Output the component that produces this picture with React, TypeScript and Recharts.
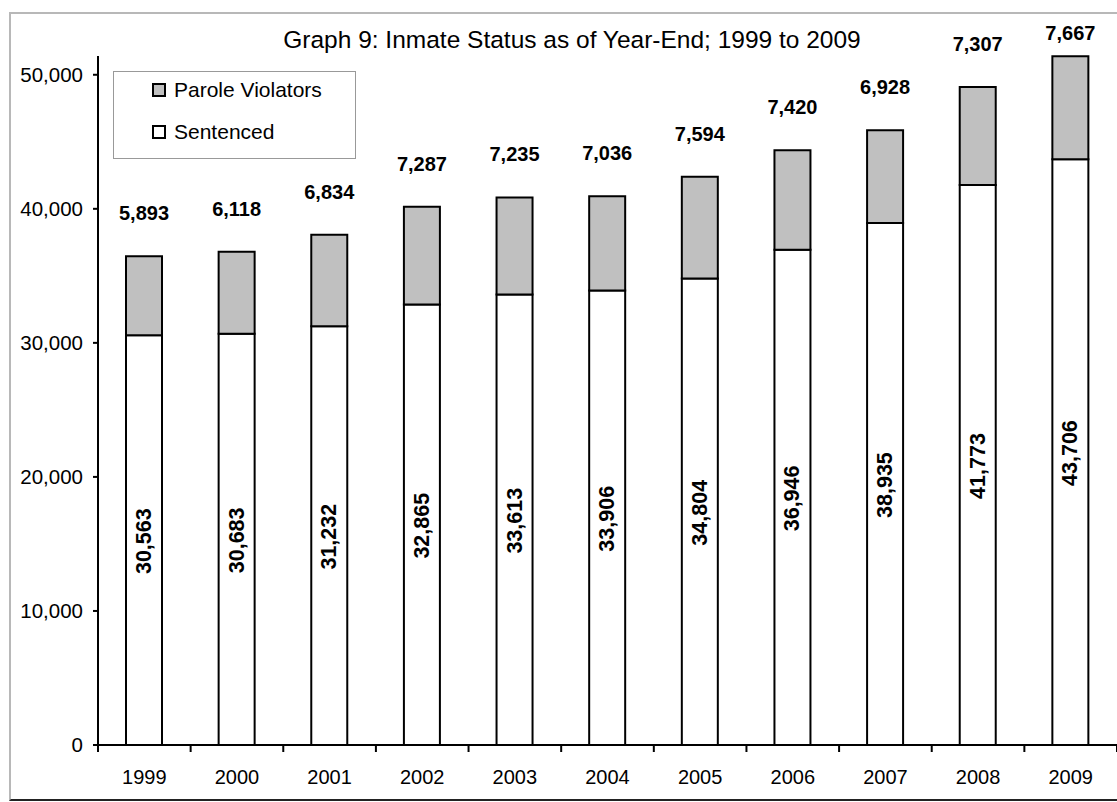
import React from 'react';
import { BarChart, Bar, XAxis, YAxis, LabelList, Legend } from 'recharts';

const years = ['1999', '2000', '2001', '2002', '2003', '2004', '2005', '2006', '2007', '2008', '2009'];
const sentenced = [30563, 30683, 31232, 32865, 33613, 33906, 34804, 36946, 38935, 41773, 43706];
const paroleViolators = [5893, 6118, 6834, 7287, 7235, 7036, 7594, 7420, 6928, 7307, 7667];
const yTicks = [0, 10000, 20000, 30000, 40000, 50000];
const legendItems = [
  { name: 'Parole Violators', color: '#c0c0c0' },
  { name: 'Sentenced', color: '#ffffff' },
];

const data = years.map((year, i) => ({
  year,
  sentenced: sentenced[i],
  parole: paroleViolators[i],
}));

const FONT = '"Liberation Sans", Arial, sans-serif';
const fmt = (v: number) => Number(v).toLocaleString('en-US');

const CHART_W = 1117;
const CHART_H = 802;
const MARGIN_TOP = 56;
const X_AXIS_H = 57;
const TICK_GAP = 25;
const Y_MAX = 51400;
const plotH = CHART_H - MARGIN_TOP - X_AXIS_H;
const yAxisLineLen = (plotH * yTicks[yTicks.length - 1]) / Y_MAX;

const ParoleLabel = (props: any) => {
  const { x, y, width, value } = props;
  const cx = Number(x) + Number(width) / 2;
  const ty = Math.max(Number(y) - 43, 33);
  return (
    <text x={cx} y={ty} textAnchor="middle" dominantBaseline="central" fontFamily={FONT} fontSize={20} fontWeight="bold" fill="#000">
      {fmt(value)}
    </text>
  );
};

const SentencedLabel = (props: any) => {
  const { x, y, width, height, value } = props;
  const cx = Number(x) + Number(width) / 2;
  const cy = Number(y) + Number(height) / 2 + 1;
  return (
    <text x={cx} y={cy} transform={`rotate(-90 ${cx} ${cy})`} textAnchor="middle" dominantBaseline="central" fontFamily={FONT} fontSize={21.5} fontWeight="bold" fill="#000">
      {fmt(value)}
    </text>
  );
};

const XTick = (props: any) => {
  const { x, y, payload, width, visibleTicksCount, index } = props;
  const band = Number(width) / Number(visibleTicksCount || 11);
  const axisY = Number(y) - TICK_GAP;
  const left = Number(x) - band / 2;
  const right = Number(x) + band / 2;
  return (
    <g>
      <line x1={left} y1={axisY} x2={left} y2={axisY + 7} stroke="#000" strokeWidth={2} />
      {index === visibleTicksCount - 1 ? <line x1={right} y1={axisY} x2={right} y2={axisY + 7} stroke="#000" strokeWidth={2} /> : null}
      <text x={x} y={y} dy="0.71em" textAnchor="middle" fontFamily={FONT} fontSize={20} fill="#000">
        {payload.value}
      </text>
    </g>
  );
};

const YTick = (props: any) => {
  const { x, y, payload, index } = props;
  return (
    <g>
      {index === 0 ? <path d={`M ${Number(x) + 15} ${Number(y)} V ${Number(y) - yAxisLineLen}`} stroke="#000" strokeWidth={2} fill="none" /> : null}
      <text x={x} y={y} dy="0.355em" textAnchor="end" fontFamily={FONT} fontSize={20.5} fill="#000">
        {fmt(payload.value)}
      </text>
    </g>
  );
};

const LegendBox = () => (
  <div style={{ width: 243, height: 88, boxSizing: 'border-box', border: '1px solid #999', background: '#fff', fontFamily: FONT, fontSize: 21, color: '#000', position: 'relative' }}>
    {legendItems.map((item, i) => (
      <div key={item.name} style={{ position: 'absolute', left: 38, top: 6 + i * 42, height: 24, display: 'flex', alignItems: 'center' }}>
        <span style={{ display: 'inline-block', width: 10, height: 10, border: '2px solid #000', background: item.color, marginRight: 8 }} />
        <span>{item.name}</span>
      </div>
    ))}
  </div>
);

export default function App() {
  return (
    <div style={{ position: 'absolute', left: 0, top: 0, width: CHART_W, height: CHART_H, background: '#fff', overflow: 'hidden' }}>
      <div style={{ position: 'absolute', left: 9, top: 12, width: 1120, height: 785, borderLeft: '2px solid #b8b8b8', borderTop: '2px solid #b8b8b8', borderBottom: '2px solid #222' }} />
      <div style={{ position: 'absolute', left: 0, top: 26, width: 1144, textAlign: 'center', fontFamily: FONT, fontSize: 24.5, color: '#000', lineHeight: '28px' }}>
        Graph 9: Inmate Status as of Year-End; 1999 to 2009
      </div>
      <div style={{ position: 'absolute', left: 0, top: 0 }}>
        <BarChart width={CHART_W} height={CHART_H} data={data} margin={{ top: MARGIN_TOP, right: 0, bottom: 0, left: 0 }} barSize={36}>
          <XAxis dataKey="year" height={X_AXIS_H} axisLine={{ stroke: '#000', strokeWidth: 2 }} tickLine={false} tickSize={0} tickMargin={TICK_GAP} tick={XTick} interval={0} />
          <YAxis
            width={98}
            domain={[0, Y_MAX]}
            ticks={yTicks}
            axisLine={{ stroke: '#000', strokeWidth: 2 }}
            tickLine={{ stroke: '#000', strokeWidth: 2 }}
            tickSize={5}
            tickMargin={10}
            tick={YTick}
          />
          <Legend layout="vertical" align="center" verticalAlign="middle" wrapperStyle={{ left: 113, top: 71, width: 243, height: 88 }} content={() => <LegendBox />} />
          <Bar dataKey="sentenced" name="Sentenced" stackId="a" fill="#ffffff" stroke="#000" strokeWidth={2} isAnimationActive={false}>
            <LabelList dataKey="sentenced" content={SentencedLabel} />
          </Bar>
          <Bar dataKey="parole" name="Parole Violators" stackId="a" fill="#c0c0c0" stroke="#000" strokeWidth={2} isAnimationActive={false}>
            <LabelList dataKey="parole" content={ParoleLabel} />
          </Bar>
        </BarChart>
      </div>
    </div>
  );
}
